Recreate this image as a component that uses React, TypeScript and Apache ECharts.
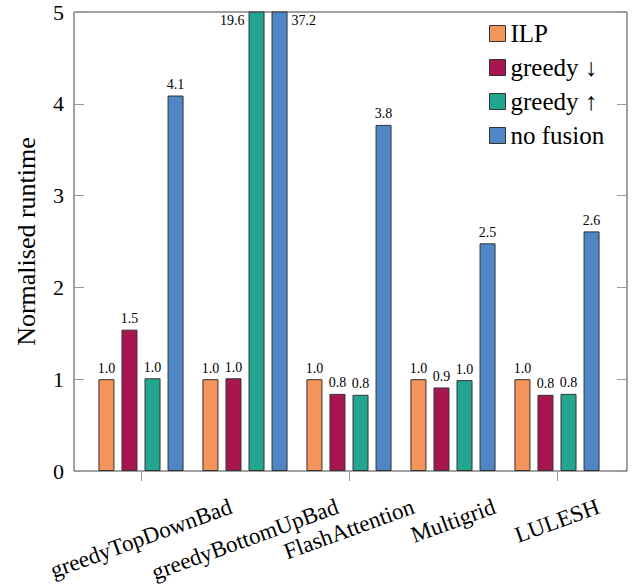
import React, { useEffect, useRef } from "react";
import * as echarts from "echarts";

const categories = ["greedyTopDownBad", "greedyBottomUpBad", "FlashAttention", "Multigrid", "LULESH"];
const seriesNames = ["ILP", "greedy ↓", "greedy ↑", "no fusion"];
const ilp = [1.0, 1.0, 1.0, 1.0, 1.0];
const greedyDown = [1.54, 1.01, 0.84, 0.91, 0.83];
const greedyUp = [1.01, 19.6, 0.83, 0.99, 0.84];
const noFusion = [4.09, 37.2, 3.77, 2.48, 2.61];
const yMin = 0;
const yMax = 5;
const yInterval = 1;
const yTitle = "Normalised runtime";

const colors = ["#F4965B", "#A8164F", "#23A68F", "#4F86C6"];
const FONT = "Liberation Serif";

export default function App() {
  const ref = useRef<HTMLDivElement>(null);

  useEffect(() => {
    document.body.style.margin = "0";
    const el = ref.current!;
    const chart = echarts.init(el, null, { renderer: "svg" });

    const grids = [
      { left: 74, top: 12, width: 553, height: 459, show: true, borderColor: "#444", borderWidth: 1, backgroundColor: "transparent" },
      { left: 89, top: 12, width: 520, height: 459 },
    ];

    const allSeries = [ilp, greedyDown, greedyUp, noFusion].map((vals, si) => ({
      name: seriesNames[si],
      type: "bar",
      xAxisIndex: 1,
      yAxisIndex: 2,
      barWidth: 16,
      barGap: "44%",
      clip: true,
      itemStyle: { color: colors[si], borderColor: "#333", borderWidth: 1 },
      label: {
        show: true,
        position: "top",
        distance: 4,
        fontSize: 14,
        fontFamily: FONT,
        color: "#000",
        formatter: (p: any) => Number(p.value).toFixed(1),
      },
      data: vals.map((v) => {
        if (v > yMax) {
          const left = si === 2;
          return {
            value: v,
            label: left
              ? { position: [-4, 9], align: "right", verticalAlign: "middle" }
              : { position: [20, 9], align: "left", verticalAlign: "middle" },
          };
        }
        return v;
      }),
    }));

    const option: any = {
      animation: false,
      textStyle: { fontFamily: FONT },
      grid: grids,
      legend: {
        orient: "vertical",
        left: 489,
        top: 21,
        padding: 0,
        itemWidth: 16,
        itemHeight: 16,
        itemGap: 9,
        icon: "rect",
        itemStyle: { borderColor: "#333", borderWidth: 1 },
        formatter: (n: string) => `{t|${n}}`,
        textStyle: {
          fontSize: 25,
          fontFamily: FONT,
          color: "#000",
          rich: { t: { fontSize: 25, fontFamily: FONT, color: "#000" } },
        },
        data: seriesNames,
      },
      xAxis: [
        { type: "value", gridIndex: 0, min: 0, max: 1, show: false },
        {
          type: "category",
          gridIndex: 1,
          data: categories,
          axisLine: { show: false },
          axisTick: { show: true, alignWithLabel: true, length: 10, lineStyle: { color: "#999" } },
          axisLabel: { show: false },
          splitLine: { show: false },
        },
      ],
      yAxis: [
        {
          type: "value",
          gridIndex: 0,
          position: "left",
          min: yMin,
          max: yMax,
          interval: yInterval,
          axisLine: { show: false },
          axisTick: { show: true, inside: true, length: 10, lineStyle: { color: "#999" } },
          axisLabel: { fontSize: 22, fontFamily: FONT, color: "#000", margin: 10 },
          splitLine: { show: false },
        },
        {
          type: "value",
          gridIndex: 0,
          position: "right",
          min: yMin,
          max: yMax,
          interval: yInterval,
          axisLine: { show: false },
          axisTick: { show: true, inside: true, length: 10, lineStyle: { color: "#999" } },
          axisLabel: { show: false },
          splitLine: { show: false },
        },
        {
          type: "value",
          gridIndex: 1,
          min: yMin,
          max: yMax,
          interval: yInterval,
          show: false,
        },
      ],
      series: allSeries,
    };

    chart.setOption(option);

    // rotated category labels, centred horizontally under each tick
    const xFont = 23;
    const theta = (20 * Math.PI) / 180;
    const labelTop = 495;
    const canvas = document.createElement("canvas");
    const ctx = canvas.getContext("2d")!;
    ctx.font = `${xFont}px Liberation Serif`;
    const graphics: any[] = categories.map((c) => {
      const px = chart.convertToPixel({ xAxisIndex: 1 } as any, c) as number;
      const L = ctx.measureText(c).width;
      const H = L * Math.sin(theta) + xFont * Math.cos(theta);
      return {
        type: "text",
        x: px,
        y: labelTop + H / 2,
        rotation: theta,
        style: {
          text: c,
          font: `${xFont}px Liberation Serif`,
          fill: "#000",
          textAlign: "center",
          textVerticalAlign: "middle",
          align: "center",
          verticalAlign: "middle",
        },
      };
    });
    // y-axis title, centred on the plot's vertical middle
    const yMid = chart.convertToPixel({ yAxisIndex: 0 } as any, (yMin + yMax) / 2) as number;
    graphics.push({
      type: "text",
      x: 26,
      y: yMid,
      rotation: Math.PI / 2,
      style: {
        text: yTitle,
        font: `26px Liberation Serif`,
        fill: "#000",
        textAlign: "center",
        textVerticalAlign: "middle",
        align: "center",
        verticalAlign: "middle",
      },
    });
    chart.setOption({ graphic: graphics });

    return () => chart.dispose();
  }, []);

  return <div ref={ref} style={{ width: 641, height: 585 }} />;
}
